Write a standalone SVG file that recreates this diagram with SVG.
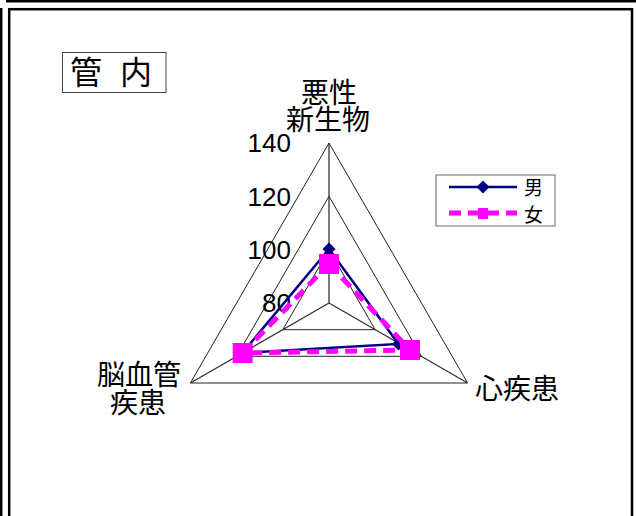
<svg xmlns="http://www.w3.org/2000/svg" width="636" height="516" viewBox="0 0 636 516">
<style>
.frame{fill:none;stroke:#000;stroke-width:2.5}
.grid{fill:none;stroke:#222;stroke-width:1}
.spoke{stroke:#333;stroke-width:1.3}
.cjk{font-family:"Noto Sans CJK JP","Noto Sans CJK SC",sans-serif;fill:#000}
.ax{font-size:28px;text-anchor:middle}
.num{font-family:"Liberation Sans",Arial,sans-serif;font-size:26px;fill:#000;text-anchor:end}
.male{fill:none;stroke:#000080;stroke-width:2.5;stroke-linejoin:miter}
.female{fill:none;stroke:#FF00FF;stroke-width:5;stroke-dasharray:12 7}
.dia{fill:#000080}
.sq{fill:#FF00FF}
</style>
<defs>
<path id="diamond" d="M0,-6.5 L6.5,0 L0,6.5 L-6.5,0 Z"/>
<rect id="square" x="-10" y="-10" width="20" height="20"/>
</defs>
<rect width="636" height="516" fill="#fff"/>
<g id="frame">
<line x1="6" y1="1.2" x2="636" y2="1.2" class="frame"/>
<line x1="1.2" y1="8" x2="1.2" y2="516" class="frame"/>
<rect x="9.2" y="9.2" width="622.8" height="520" class="frame"/>
</g>
<g id="title">
<rect x="62.5" y="52.5" width="103.5" height="40" fill="#fff" stroke="#444" stroke-width="1"/>
<text class="cjk" font-size="32" x="70 100 120" y="84">管 内</text>
</g>
<g id="grid">
<polygon class="grid" points="329,143 467.6,383 190.4,383"/>
<polygon class="grid" points="329,196.3 421.4,356.3 236.6,356.3"/>
<polygon class="grid" points="329,249.7 375.2,329.7 282.8,329.7"/>
<line class="spoke" x1="329" y1="303" x2="329" y2="143"/>
<line class="spoke" x1="329" y1="303" x2="467.6" y2="383"/>
<line class="spoke" x1="329" y1="303" x2="190.4" y2="383"/>
</g>
<g id="scale">
<text class="num" x="291" y="152">140</text>
<text class="num" x="291" y="206">120</text>
<text class="num" x="291" y="259">100</text>
<text class="num" x="291" y="312">80</text>
</g>
<g id="axis-labels">
<text class="cjk ax"><tspan x="329" y="103">悪性</tspan><tspan x="328" y="130">新生物</tspan></text>
<text class="cjk ax"><tspan x="139" y="385">脳血管</tspan><tspan x="138" y="413">疾患</tspan></text>
<text class="cjk ax" x="517" y="399">心疾患</text>
</g>
<g id="series-male">
<polygon class="male" points="329,249 398.5,344 242.4,353"/>
<use href="#diamond" class="dia" x="329" y="249"/>
<use href="#diamond" class="dia" x="398.5" y="344"/>
<use href="#diamond" class="dia" x="242.4" y="353"/>
</g>
<g id="series-female">
<polygon class="female" points="329,264 410,350 242.7,353"/>
<use href="#square" class="sq" x="329" y="264"/>
<use href="#square" class="sq" x="410" y="350"/>
<use href="#square" class="sq" x="242.7" y="353"/>
</g>
<g id="legend">
<rect x="436" y="175" width="119" height="51" fill="#fff" stroke="#666" stroke-width="1"/>
<line class="male" x1="449" y1="187" x2="517" y2="187"/>
<use href="#diamond" class="dia" x="483" y="187"/>
<line class="female" x1="449" y1="213" x2="517" y2="213"/>
<rect class="sq" x="478" y="208" width="10" height="11"/>
<text class="cjk" font-size="19" x="524" y="195">男</text>
<text class="cjk" font-size="19" x="524" y="222">女</text>
</g>
</svg>
